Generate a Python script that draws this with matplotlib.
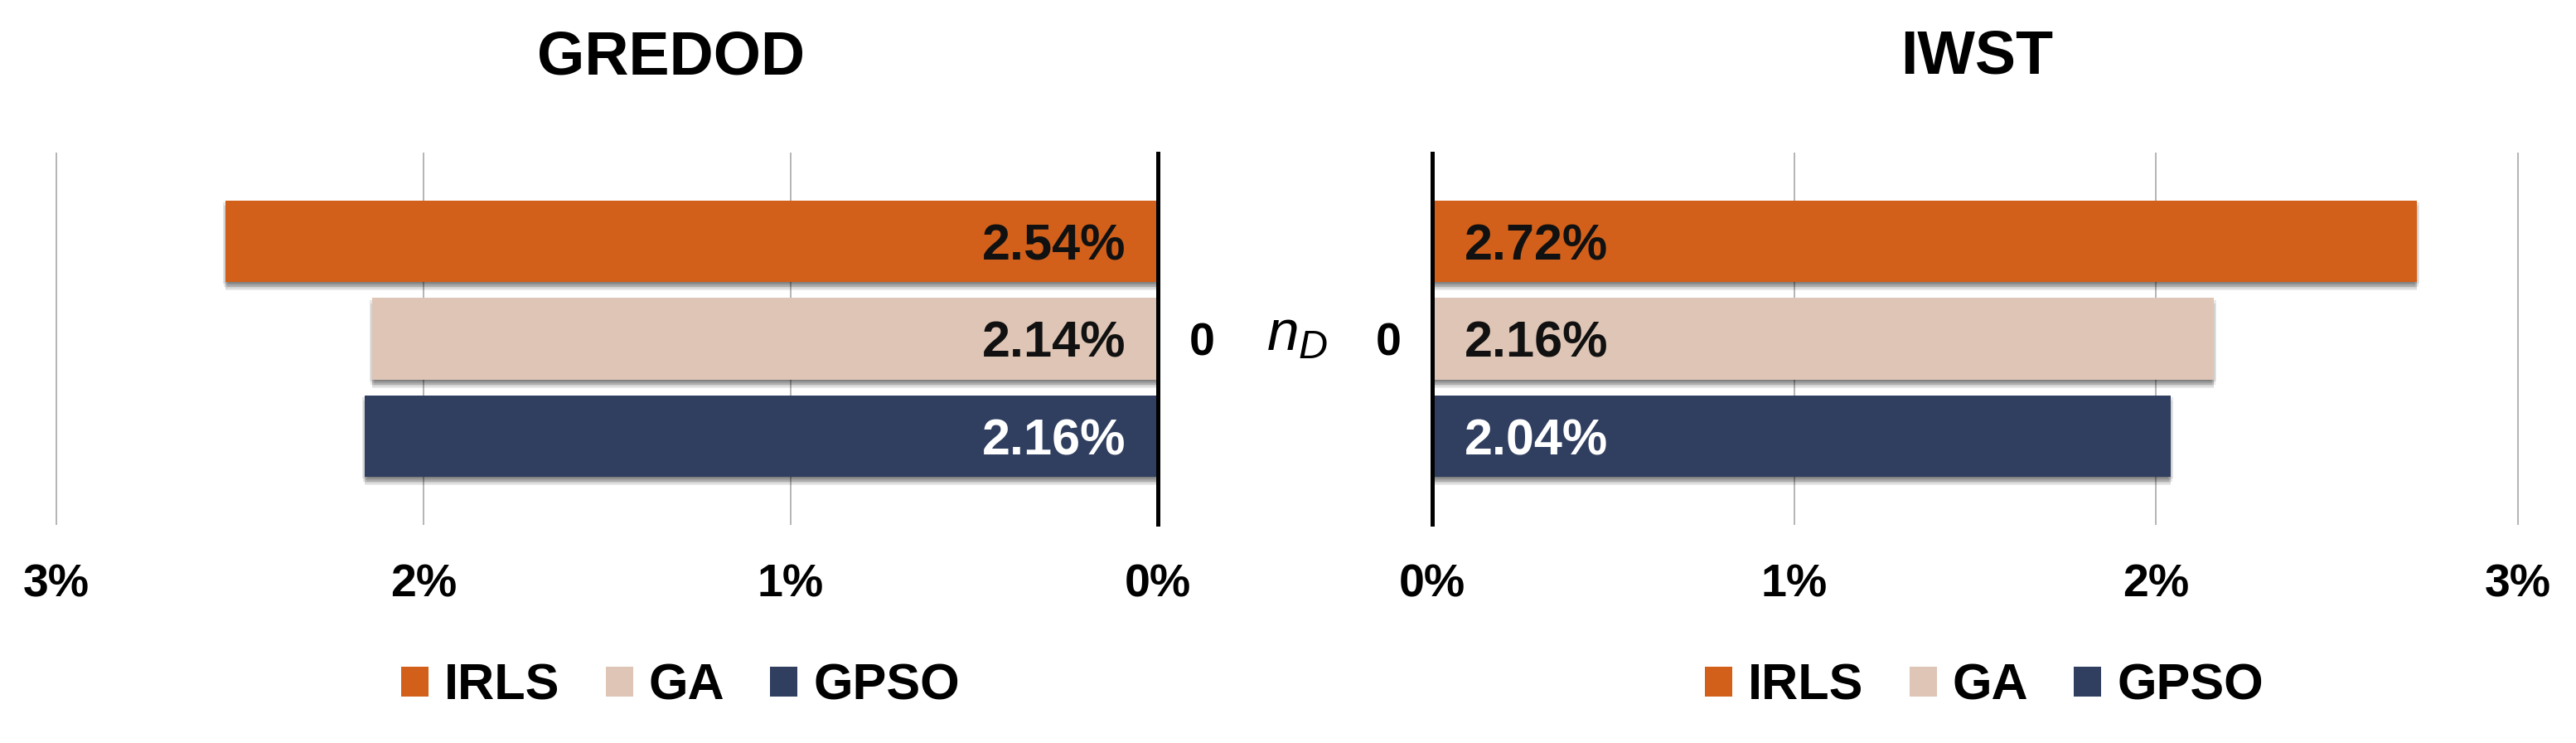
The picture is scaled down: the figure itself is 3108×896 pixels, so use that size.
import matplotlib
matplotlib.use("Agg")
import matplotlib.pyplot as plt
import matplotlib.patheffects as pe
import numpy as np
from matplotlib.patches import Patch

plt.rcParams["font.family"] = ["Liberation Sans", "DejaVu Sans"]
plt.rcParams["mathtext.fontset"] = "custom"
plt.rcParams["mathtext.it"] = "Liberation Sans:italic"
plt.rcParams["mathtext.rm"] = "Liberation Sans"

# data
panel_titles = ["GREDOD", "IWST"]
methods = ["IRLS", "GA", "GPSO"]
categories = ["0"]
gredod_values = [2.54, 2.14, 2.16]
iwst_values = [2.72, 2.16, 2.04]
x_ticks = [0, 1, 2, 3]
x_tick_labels = ["0%", "1%", "2%", "3%"]

colors = ["#D2601A", "#DEC5B5", "#303F60"]
label_colors = ["#111111", "#111111", "#FFFFFF"]

W, H = 3108, 896
fig = plt.figure(figsize=(W / 100, H / 100), dpi=100)

ax_bottom = 1 - 632 / H
ax_height = 447 / H
ax_left = fig.add_axes([68 / W, ax_bottom, (1397 - 68) / W, ax_height])
ax_right = fig.add_axes([1728 / W, ax_bottom, (3038 - 1728) / W, ax_height])

# soft drop shadow built from a few offset copies
shadow = [
    pe.SimplePatchShadow(offset=(dx, -dy), shadow_rgbFace="#000000", alpha=0.09)
    for dx, dy in [(-2, 1.5), (2, 1.5), (0, 3), (-1.5, 4.5), (1.5, 4.5), (0, 6), (0, 7.5)]
] + [pe.Normal()]


def draw_panel(ax, values, side):
    offsets = np.arange(len(methods)) - (len(methods) - 1) / 2
    bars = ax.barh(offsets, values, height=0.834, color=colors, zorder=3)
    for bar in bars:
        bar.set_path_effects(shadow)

    ax.set_ylim(1.902, -1.902)
    if side == "left":
        ax.set_xlim(3, 0)
        ax.yaxis.tick_right()
        sign, ha = -1, "right"
    else:
        ax.set_xlim(0, 3)
        sign, ha = 1, "left"

    for spine in ax.spines.values():
        spine.set_visible(False)

    ax.set_xticks(x_ticks, x_tick_labels, fontsize=40, fontweight="bold")
    ax.tick_params(axis="x", length=0, pad=34)
    ax.set_yticks(range(len(categories)), categories, fontsize=40, fontweight="bold")
    ax.tick_params(axis="y", length=0, pad=27)

    ax.grid(axis="x", color="#B4B4B4", linewidth=1.4, zorder=0)
    ax.set_axisbelow(True)
    for line in ax.get_xgridlines():
        line.set_clip_on(False)
    ax.axvline(0, color="black", linewidth=3.6, zorder=4, clip_on=False)

    for y, v, c in zip(offsets, values, label_colors):
        ax.annotate(
            f"{v:.2f}%",
            xy=(0, y),
            xytext=(sign * 28, -16),
            textcoords="offset points",
            ha=ha,
            va="baseline",
            fontsize=44,
            fontweight="bold",
            color=c,
            zorder=5,
        )


draw_panel(ax_left, gredod_values, "left")
draw_panel(ax_right, iwst_values, "right")

fig.text(810 / W, 1 - 90 / H, panel_titles[0], ha="center", va="baseline",
         fontsize=53, fontweight="bold")
fig.text(2385 / W, 1 - 90 / H, panel_titles[1], ha="center", va="baseline",
         fontsize=53, fontweight="bold")
fig.text(1565 / W, 1 - 422 / H, r"$n_D$", ha="center", va="baseline", fontsize=50)

handles = [Patch(facecolor=c, edgecolor="none") for c in colors]
for cx in (821, 2394):
    fig.legend(
        handles,
        methods,
        loc="center",
        bbox_to_anchor=(cx / W, 1 - 828 / H),
        ncol=3,
        frameon=False,
        prop={"weight": "bold", "size": 44},
        handlelength=0.54,
        handleheight=0.54,
        handletextpad=0.31,
        columnspacing=0.9,
        borderpad=0,
        borderaxespad=0,
    )

fig.savefig("out.png", dpi=100)
